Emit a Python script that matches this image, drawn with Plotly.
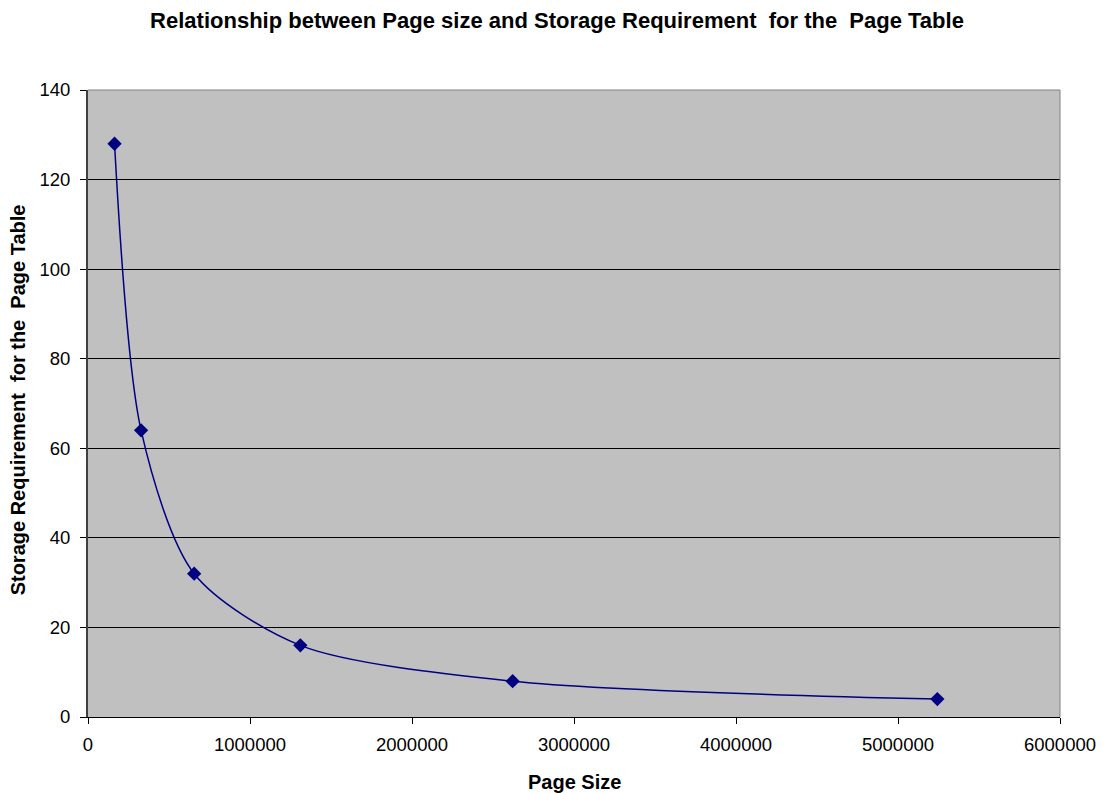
import plotly.graph_objects as go

# Page size in bytes and storage needed for the page table
page_size = [163840, 327680, 655360, 1310720, 2621440, 5242880]
storage = [128, 64, 32, 16, 8, 4]

x_ticks = [0, 1000000, 2000000, 3000000, 4000000, 5000000, 6000000]
y_ticks = [0, 20, 40, 60, 80, 100, 120, 140]

navy = "#000080"
font_family = "Liberation Sans, Arial, sans-serif"

W, H = 1114, 793
M_L, M_R, M_T, M_B = 88, 54, 90, 76
plot_w = W - M_L - M_R
plot_h = H - M_T - M_B

fig = go.Figure(
    go.Scatter(
        x=page_size,
        y=storage,
        mode="lines+markers",
        line=dict(color=navy, width=1.5, shape="spline", smoothing=0.8),
        marker=dict(symbol="diamond", size=11, color=navy),
        showlegend=False,
    )
)

fig.update_layout(
    width=W,
    height=H,
    margin=dict(l=M_L, r=M_R, t=M_T, b=M_B),
    paper_bgcolor="white",
    plot_bgcolor="#c0c0c0",
    font=dict(family=font_family, size=18.5, color="black"),
    title=dict(
        text="<b>Relationship between Page size and Storage Requirement  for the  Page Table</b>",
        x=0.5,
        xanchor="center",
        y=1 - 20 / H,
        yanchor="middle",
        font=dict(family=font_family, size=22, color="black"),
    ),
)

fig.update_xaxes(
    range=[0, 6000000],
    tickvals=x_ticks,
    ticktext=[str(v) for v in x_ticks],
    showgrid=False,
    zeroline=False,
    showline=True,
    linecolor="black",
    linewidth=1,
    ticks="outside",
    ticklen=6,
    tickcolor="black",
    ticklabelstandoff=5,
    tickfont=dict(size=18.5),
)

fig.update_yaxes(
    range=[0, 140],
    tickvals=y_ticks,
    ticktext=[str(v) for v in y_ticks],
    showgrid=True,
    gridcolor="black",
    gridwidth=1,
    zeroline=False,
    showline=True,
    linecolor="#404040",
    linewidth=2,
    ticks="outside",
    ticklen=6,
    tickcolor="black",
    ticklabelstandoff=6,
    tickfont=dict(size=18.5),
)

# Axis titles
fig.add_annotation(
    text="<b>Page Size</b>", xref="paper", yref="paper",
    x=0.5, y=-65 / plot_h, xanchor="center", yanchor="middle",
    showarrow=False, font=dict(size=20),
)
fig.add_annotation(
    text="<b>Storage Requirement  for the  Page Table</b>", xref="paper", yref="paper",
    x=-70 / plot_w, y=0.505, xanchor="center", yanchor="middle", textangle=-90,
    showarrow=False, font=dict(size=20),
)

# Gray frame on the top and right edges of the plotting area
fig.add_shape(type="line", xref="paper", yref="paper", x0=0, x1=1, y0=1, y1=1,
              line=dict(color="#808080", width=1))
fig.add_shape(type="line", xref="paper", yref="paper", x0=1, x1=1, y0=0, y1=1,
              line=dict(color="#808080", width=1))

fig.write_html("out.html")
